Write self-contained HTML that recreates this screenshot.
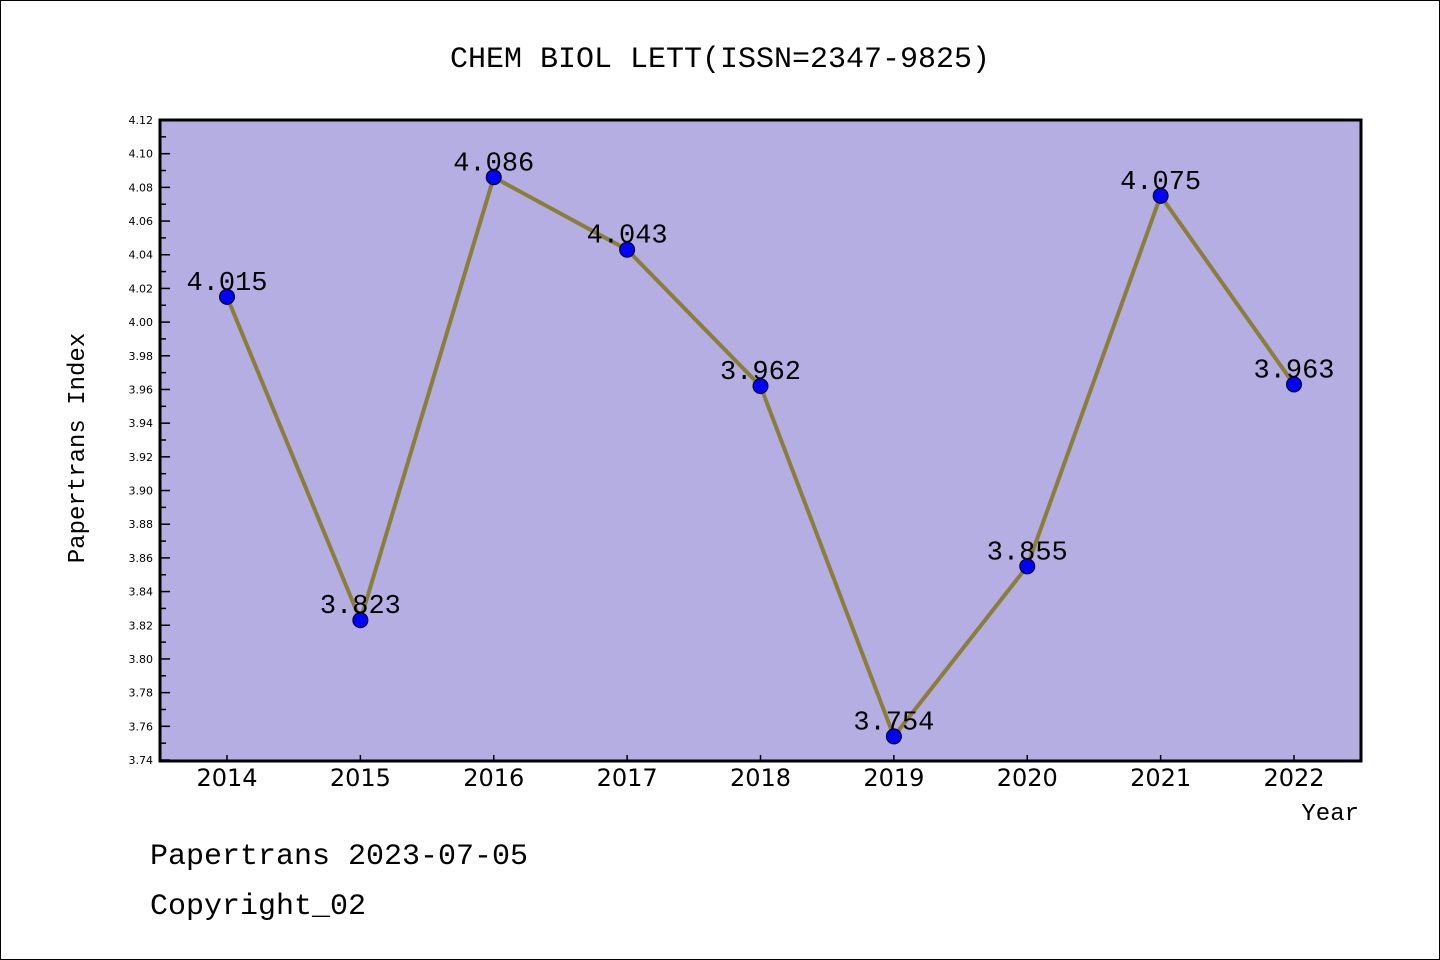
<!DOCTYPE html>
<html><head><meta charset="utf-8"><style>
html,body{margin:0;padding:0;background:#fff}
svg{display:block}
text{font-family:"Liberation Mono","WenQuanYi Zen Hei",monospace;fill:#000}
.sans{font-family:"DejaVu Sans","Liberation Sans",sans-serif}
</style></head><body>
<svg id="chart" width="1440" height="960" viewBox="0 0 1440 960">
<rect x="0.5" y="0.5" width="1439" height="959" fill="#fff" stroke="#000" stroke-width="1"/>
<text x="720" y="67" text-anchor="middle" font-size="30">CHEM BIOL LETT(ISSN=2347-9825)</text>
<rect x="160" y="120" width="1201" height="641" fill="#b5aee2"/>
<g id="yaxis"></g>
<g id="xaxis"></g>
<g id="series"></g>
<rect x="160" y="120" width="1201" height="641" fill="none" stroke="#000" stroke-width="3"/>
<text transform="translate(84,448) rotate(-90)" text-anchor="middle" font-size="24">Papertrans Index</text>
<text x="1359" y="820" text-anchor="end" font-size="24">Year</text>
<text x="150" y="864" font-size="30">Papertrans 2023-07-05</text>
<text x="150" y="914" font-size="30">Copyright_02</text>
</svg>
<script>
const years = [2014,2015,2016,2017,2018,2019,2020,2021,2022];
const values = [4.015,3.823,4.086,4.043,3.962,3.754,3.855,4.075,3.963];
const valueLabels = ["4.015","3.823","4.086","4.043","3.962","3.754","3.855","4.075","3.963"];
const yTicks = ["3.74","3.76","3.78","3.80","3.82","3.84","3.86","3.88","3.90","3.92","3.94","3.96","3.98","4.00","4.02","4.04","4.06","4.08","4.10","4.12"];

const NS="http://www.w3.org/2000/svg";
const yMin=3.74,yMax=4.12,plotTop=120,plotBot=760;
function yS(v){return plotBot-(v-yMin)/(yMax-yMin)*(plotBot-plotTop);}
function xS(i){return 227+i*(1294-227)/(years.length-1);}
function mk(tag,attrs,parent){const e=document.createElementNS(NS,tag);for(const k in attrs)e.setAttribute(k,attrs[k]);parent.appendChild(e);return e;}
const ya=document.getElementById('yaxis');
yTicks.forEach((t,i)=>{
  const y=yS(parseFloat(t));
  const ln=mk('line',{x1:160,x2:170,y1:y,y2:y,stroke:'#000','stroke-width':1.5},ya);
  
  
  const tx=mk('text',{x:153,y:y+4,'text-anchor':'end','font-size':11,'class':'sans'},ya);
  tx.textContent=t;
  
  
  if(i<yTicks.length-1){
    const ym=yS(parseFloat(t)+0.01);
    const mn=mk('line',{x1:160,x2:166,y1:ym,y2:ym,stroke:'#000','stroke-width':1.5},ya);
    
    
  }
});
const xa=document.getElementById('xaxis');
years.forEach((yr,i)=>{
  const x=xS(i);
  const ln=mk('line',{x1:x,x2:x,y1:760,y2:755,stroke:'#000','stroke-width':1.5},xa);
  
  
  const tx=mk('text',{x:x,y:786,'text-anchor':'middle','font-size':24,'class':'sans'},xa);
  tx.textContent=yr;
  
  
});
const s=document.getElementById('series');
const pts=values.map((v,i)=>xS(i)+','+yS(v)).join(' ');
const pl=mk('polyline',{points:pts,fill:'none',stroke:'#8b7d3a','stroke-width':4,'stroke-linejoin':'round'},s);


values.forEach((v,i)=>{
  const c=mk('circle',{cx:xS(i),cy:yS(v),r:7.5,fill:'#0000ff',stroke:'#000','stroke-width':1},s);
  
  
  const t=mk('text',{x:xS(i),y:yS(v)-7,'text-anchor':'middle','font-size':27},s);
  t.textContent=valueLabels[i];
  
  
});
</script>
</body></html>
